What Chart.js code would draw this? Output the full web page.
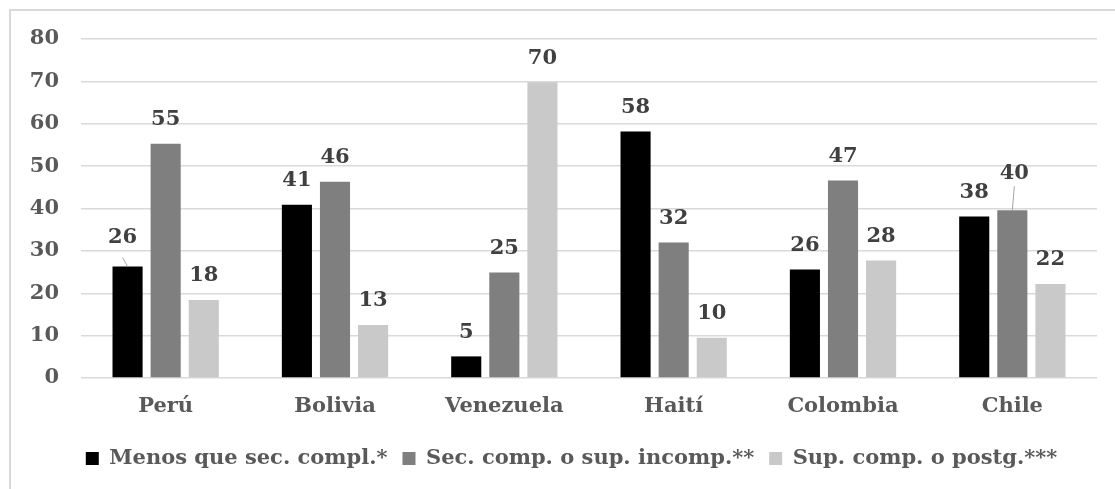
<!DOCTYPE html>
<html>
<head>
<meta charset="utf-8">
<script src="https://cdn.jsdelivr.net/npm/chart.js@4.4.1/dist/chart.umd.min.js"></script>
<style>
    html, body { margin: 0; padding: 0; background: #fff; overflow: hidden; }
    #marco { position: absolute; left: 9px; top: 9px; width: 1300px; height: 700px; border: 2px solid #d9d9d9; box-sizing: border-box; }
    #grafico { position: absolute; left: 0; top: 0; }
</style>
</head>
<body>
<div id="marco"></div>
<canvas id="grafico" width="1115" height="489"></canvas>
<script>
// Datos (%)
const paises = ['Perú', 'Bolivia', 'Venezuela', 'Haití', 'Colombia', 'Chile'];
const menosQueSec = [26.3, 40.9, 5.1, 58.2, 25.6, 38.1];
const secCompSupIncomp = [55.3, 46.3, 24.9, 32.0, 46.6, 39.6];
const supCompPostg = [18.4, 12.5, 69.8, 9.5, 27.7, 22.2];
const nombresSeries = ['Menos que sec. compl.*', 'Sec. comp. o sup. incomp.**', 'Sup. comp. o postg.***'];
const ejeYMin = 0;
const ejeYMax = 80;
const ejeYPaso = 10;

const fuente = 'DejaVu Serif';
const grisTexto = '#595959';
const grisLinea = '#d9d9d9';

// Etiquetas de valor encima de cada barra (sin plugin externo)
const etiquetasPlugin = {
    id: 'etiquetas',
    afterDatasetsDraw(chart, args, opts) {
        const ctx = chart.ctx;
        ctx.save();
        ctx.font = 'bold 21px "' + fuente + '"';
        ctx.fillStyle = '#404040';
        ctx.textAlign = 'center';
        ctx.textBaseline = 'middle';
        chart.data.datasets.forEach((ds, i) => {
            chart.getDatasetMeta(i).data.forEach((barra, j) => {
                const d = opts.desplazar[i + '-' + j];
                let x = barra.x;
                let y = barra.y - opts.distancia;
                if (d) {
                    x += d.dx;
                    y += d.dy;
                    ctx.strokeStyle = '#a6a6a6';
                    ctx.lineWidth = 1;
                    ctx.beginPath();
                    ctx.moveTo(x, y + d.desde);
                    ctx.lineTo(barra.x, barra.y);
                    ctx.stroke();
                }
                ctx.fillText(Math.round(ds.data[j]), x, y);
            });
        });
        ctx.restore();
    }
};

// La leyenda de Excel queda algo corrida a la derecha
const moverLeyenda = {
    id: 'moverLeyenda',
    afterLayout(chart) {
        chart.legend.left += 23;
        chart.legend.right += 23;
    }
};

const ctx = document.getElementById('grafico').getContext('2d');
new Chart(ctx, {
    type: 'bar',
    data: {
        labels: paises,
        datasets: [
            { label: nombresSeries[0], data: menosQueSec, backgroundColor: '#000000', borderWidth: 0 },
            { label: nombresSeries[1], data: secCompSupIncomp, backgroundColor: '#7f7f7f', borderWidth: 0 },
            { label: nombresSeries[2], data: supCompPostg, backgroundColor: '#c9c9c9', borderWidth: 0 }
        ]
    },
    options: {
        responsive: false,
        animation: false,
        devicePixelRatio: 1,
        layout: { padding: { left: 0, right: 18, top: 39, bottom: 10 } },
        datasets: { bar: { categoryPercentage: 0.675, barPercentage: 0.79 } },
        scales: {
            x: {
                grid: { display: false, drawTicks: false },
                border: { display: false },
                ticks: { color: grisTexto, padding: 16, font: { family: fuente, size: 21, weight: 'bold' } },
                afterFit: (s) => { s.height = 55; }
            },
            y: {
                min: ejeYMin,
                max: ejeYMax,
                ticks: { stepSize: ejeYPaso, color: grisTexto, padding: 22, font: { family: fuente, size: 21, weight: 'bold' } },
                grid: { color: grisLinea, lineWidth: 1.5, drawTicks: false },
                border: { display: false },
                afterFit: (s) => { s.width = 81; }
            }
        },
        plugins: {
            legend: {
                position: 'bottom',
                labels: {
                    color: grisTexto,
                    boxWidth: 13,
                    boxHeight: 13,
                    padding: 15,
                    font: { family: fuente, size: 21, weight: 'bold' }
                }
            },
            tooltip: { enabled: false },
            etiquetas: {
                distancia: 24,
                desplazar: {
                    '0-0': { dx: -5, dy: -5, desde: 20 },
                    '1-5': { dx: 2, dy: -13, desde: 13 }
                }
            }
        }
    },
    plugins: [etiquetasPlugin, moverLeyenda]
});
</script>
</body>
</html>
